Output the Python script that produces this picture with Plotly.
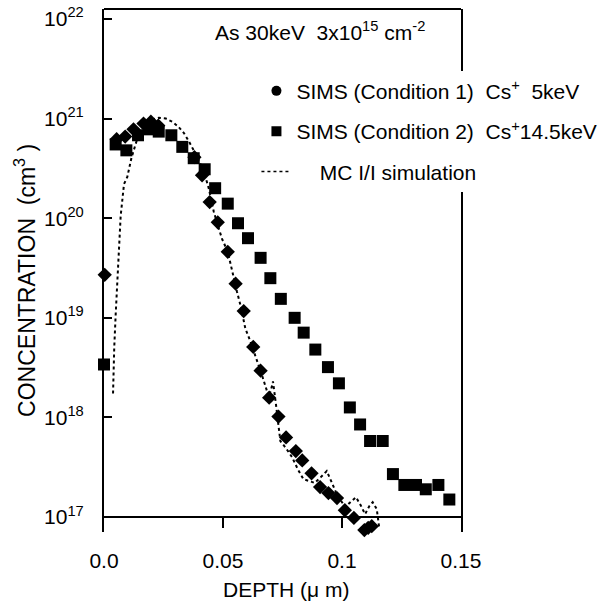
import plotly.graph_objects as go

# SIMS, condition 1 (Cs+ 5 keV)
depth_c1 = [0.0003, 0.0053, 0.0089, 0.0124, 0.0166, 0.0197, 0.0228, 0.0380, 0.0412, 0.0444,
            0.0478, 0.0520, 0.0553, 0.0587, 0.0627, 0.0658, 0.0694, 0.0733, 0.0765, 0.0806,
            0.0833, 0.0872, 0.0908, 0.0943, 0.0979, 0.1012, 0.1050, 0.1094, 0.1110, 0.1125]
conc_c1 = [2.7e19, 6.2e20, 6.6e20, 7.8e20, 8.9e20, 9.3e20, 8.5e20, 4.1e20, 2.7e20, 1.45e20,
           9.1e19, 4.6e19, 2.2e19, 1.17e19, 5.1e18, 2.95e18, 1.58e18, 1.02e18, 6.3e17, 4.6e17,
           3.7e17, 2.75e17, 2.0e17, 1.74e17, 1.55e17, 1.17e17, 9.8e16, 7.4e16, 7.8e16, 8.1e16]

# SIMS, condition 2 (Cs+ 14.5 keV)
depth_c2 = [0.0, 0.0049, 0.0094, 0.0143, 0.0192, 0.0230, 0.0283, 0.0329, 0.0377, 0.0423,
            0.0467, 0.0520, 0.0563, 0.0605, 0.0658, 0.0699, 0.0743, 0.0801, 0.0839, 0.0888,
            0.0941, 0.0987, 0.1033, 0.1076, 0.1118, 0.1171, 0.1214, 0.1262, 0.1311, 0.1352,
            0.1405, 0.1451]
conc_c2 = [3.4e18, 5.5e20, 4.8e20, 6.8e20, 7.8e20, 7.4e20, 6.8e20, 5.2e20, 4.0e20, 3.1e20,
           2.0e20, 1.4e20, 8.9e19, 6.3e19, 4.0e19, 2.5e19, 1.55e19, 1.0e19, 7.1e18, 4.8e18,
           3.2e18, 2.2e18, 1.26e18, 8.5e17, 5.8e17, 5.8e17, 2.7e17, 2.1e17, 2.1e17, 1.9e17,
           2.1e17, 1.5e17]

# MC I/I simulation
depth_mc = [0.0038, 0.0040, 0.0043, 0.0049, 0.0056, 0.0063, 0.0070, 0.0084, 0.0098, 0.0115,
            0.0126, 0.0140, 0.0160, 0.0180, 0.0205, 0.0231, 0.0260, 0.0287, 0.0312, 0.0335,
            0.0355, 0.0372, 0.0390, 0.0405, 0.0426, 0.0440, 0.0461, 0.0478, 0.0496, 0.0520,
            0.0538, 0.0559, 0.0573, 0.0594, 0.0615, 0.0643, 0.0665, 0.0680, 0.0692, 0.0702,
            0.0710, 0.0720, 0.0729, 0.0741, 0.0765, 0.0790, 0.0815, 0.0838, 0.0862, 0.0885,
            0.0910, 0.0936, 0.0958, 0.0978, 0.1000, 0.1013, 0.1035, 0.1059, 0.1078, 0.1097,
            0.1115, 0.1129, 0.1146, 0.1157]
conc_mc = [1.74e18, 2.8e18, 5.0e18, 1.07e19, 2.3e19, 4.9e19, 1.05e20, 2.2e20, 2.6e20, 4.0e20,
           5.0e20, 6.3e20, 7.9e20, 9.1e20, 9.8e20, 1.02e21, 1.0e21, 9.3e20, 8.3e20, 7.2e20,
           6.0e20, 5.1e20, 4.2e20, 3.5e20, 2.6e20, 2.0e20, 1.17e20, 8.5e19, 6.2e19, 4.6e19,
           2.9e19, 1.82e19, 1.35e19, 7.8e18, 5.8e18, 3.8e18, 2.6e18, 2.0e18, 1.62e18, 1.9e18,
           2.3e18, 1.51e18, 1.02e18, 5.8e17, 4.9e17, 4.0e17, 3.0e17, 2.4e17, 2.3e17, 2.2e17,
           2.5e17, 2.9e17, 2.2e17, 1.7e17, 1.41e17, 1.26e17, 1.41e17, 1.58e17, 1.32e17, 1.07e17,
           1.29e17, 1.41e17, 1.2e17, 7.6e16]

x_ticks = [0, 0.05, 0.1, 0.15]
x_labels = ["0.0", "0.05", "0.1", "0.15"]
y_ticks = [1e17, 1e18, 1e19, 1e20, 1e21, 1e22]
y_labels = ["10<sup>17</sup>", "10<sup>18</sup>", "10<sup>19</sup>",
            "10<sup>20</sup>", "10<sup>21</sup>", "10<sup>22</sup>"]

FONT = "Liberation Sans, Arial, sans-serif"
nb = "\u00a0"

fig = go.Figure()
fig.add_trace(go.Scatter(x=depth_mc, y=conc_mc, mode="lines", showlegend=False,
                         line=dict(color="black", width=2, dash="dot")))
fig.add_trace(go.Scatter(x=depth_c1, y=conc_c1, mode="markers", showlegend=False, cliponaxis=False,
                         marker=dict(symbol="diamond", size=11, color="black")))
fig.add_trace(go.Scatter(x=depth_c2, y=conc_c2, mode="markers", showlegend=False, cliponaxis=False,
                         marker=dict(symbol="square", size=12, color="black")))

# legend entries
fig.add_trace(go.Scatter(x=[None], y=[None], mode="markers", legendgroup="a",
                         name="SIMS (Condition 1)" + nb * 2 + "Cs<sup>+</sup>" + nb * 2 + "5keV",
                         marker=dict(symbol="circle", size=10, color="black")))
fig.add_trace(go.Scatter(x=[None], y=[None], mode="markers", legendgroup="b",
                         name="SIMS (Condition 2)" + nb * 2 + "Cs<sup>+</sup>14.5keV",
                         marker=dict(symbol="square", size=10, color="black")))
fig.add_trace(go.Scatter(x=[None], y=[None], mode="lines", legendgroup="c",
                         name=nb * 4 + "MC I/I simulation",
                         line=dict(color="black", width=1.5, dash="dot")))

y_lo, y_hi = 16.85, 22.1
axis_frac = (17 - y_lo) / (y_hi - y_lo)

shapes = [
    dict(type="line", xref="paper", yref="paper", x0=0, x1=1, y0=1, y1=1,
         line=dict(color="black", width=2)),
    dict(type="line", xref="paper", yref="paper", x0=0, x1=1, y0=axis_frac, y1=axis_frac,
         line=dict(color="black", width=2)),
]
for t in x_ticks[1:-1]:
    shapes.append(dict(type="line", xref="x", yref="paper", x0=t, x1=t,
                       y0=axis_frac, y1=axis_frac - 11 / 527,
                       line=dict(color="black", width=2)))

fig.update_layout(
    width=613, height=605,
    margin=dict(l=104, r=152, t=5, b=73),
    paper_bgcolor="white", plot_bgcolor="white",
    font=dict(family=FONT, size=21, color="black"),
    showlegend=True,
    legend=dict(x=0.427, xanchor="left", y=0.882, yanchor="top",
                font=dict(size=21), traceorder="grouped", tracegroupgap=10,
                bgcolor="white", borderwidth=0),
    xaxis=dict(range=[0, 0.15], tickvals=x_ticks, ticktext=x_labels, ticks="",
               showgrid=False, zeroline=False, showline=False, ticklabelstandoff=14),
    yaxis=dict(type="log", range=[y_lo, y_hi], tickvals=y_ticks, ticktext=y_labels,
               ticks="inside", ticklen=8, tickwidth=2, tickcolor="black",
               showgrid=False, zeroline=False, showline=True, linewidth=2, linecolor="black",
               mirror=True, ticklabelstandoff=14),
    shapes=shapes,
    annotations=[
        dict(text="As 30keV" + nb * 2 + "3x10<sup>15</sup> cm<sup>-2</sup>", xref="paper", yref="paper",
             x=0.606, y=0.958, xanchor="center", yanchor="middle", showarrow=False),
        dict(text="DEPTH (\u03bc m)", xref="paper", yref="paper", x=0.511, y=-0.11,
             xanchor="center", yanchor="middle", showarrow=False),
        dict(text="CONCENTRATION" + nb * 2 + "(cm<sup>3</sup> )", xref="paper", yref="paper",
             x=-0.22, y=0.481, xanchor="center", yanchor="middle", textangle=-90, showarrow=False,
             font=dict(size=23)),
    ],
)

fig.write_html("out.html", config={"displayModeBar": False},
               post_script="document.body.style.margin='0';")
